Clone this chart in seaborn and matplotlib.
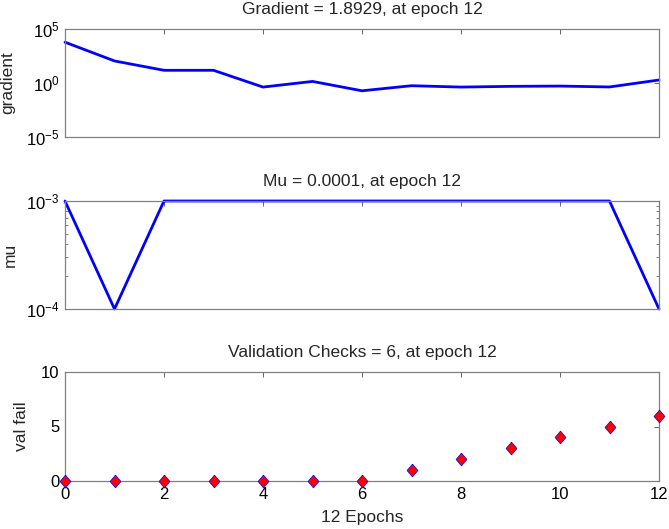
import matplotlib
matplotlib.use("Agg")
import matplotlib.pyplot as plt
import matplotlib.ticker as mticker
import numpy as np
import pandas as pd
import seaborn as sns

# training record values
epochs = [0, 1, 2, 3, 4, 5, 6, 7, 8, 9, 10, 11, 12]
gradient = [6000, 110, 15, 15, 0.42, 1.4, 0.19, 0.56, 0.42, 0.49, 0.52, 0.43, 1.8929]
mu = [1e-3, 1e-4, 1e-3, 1e-3, 1e-3, 1e-3, 1e-3, 1e-3, 1e-3, 1e-3, 1e-3, 1e-3, 1e-4]
val_fail = [0, 0, 0, 0, 0, 0, 0, 1, 2, 3, 4, 5, 6]

titles = ["Gradient = 1.8929, at epoch 12",
          "Mu = 0.0001, at epoch 12",
          "Validation Checks = 6, at epoch 12"]

df = pd.DataFrame({"epoch": epochs, "gradient": gradient, "mu": mu, "val_fail": val_fail})

sns.set_theme(style="white")
plt.rcParams['font.family'] = ['Liberation Sans', 'DejaVu Sans']
plt.rcParams['mathtext.fontset'] = 'custom'
plt.rcParams['mathtext.rm'] = 'Liberation Sans'
plt.rcParams['mathtext.it'] = 'Liberation Sans'

FW, FH = 669, 529
fig = plt.figure(figsize=(FW / 100, FH / 100), dpi=100)

def box(top, bottom, left=65, right=659):
    return [left / FW, 1 - bottom / FH, (right - left) / FW, (bottom - top) / FH]

ax1 = fig.add_axes(box(29, 137))
ax2 = fig.add_axes(box(201, 309))
ax3 = fig.add_axes(box(372, 481))

blue = "#0000ff"

# gradient
sns.lineplot(data=df, x="epoch", y="gradient", ax=ax1, color=blue, linewidth=2, clip_on=False)
ax1.set_yscale("log")
ax1.set_ylim(1e-5, 1e5)
ax1.set_yticks([1e-5, 1e0, 1e5])
ax1.yaxis.set_minor_locator(mticker.NullLocator())
ax1.set_ylabel("gradient")

# mu
sns.lineplot(data=df, x="epoch", y="mu", ax=ax2, color=blue, linewidth=2, clip_on=False)
ax2.set_yscale("log")
ax2.set_ylim(1e-4, 1e-3)
ax2.set_yticks([1e-4, 1e-3])
ax2.yaxis.set_minor_locator(mticker.LogLocator(base=10, subs=np.arange(2, 10)))
ax2.yaxis.set_minor_formatter(mticker.NullFormatter())
ax2.set_ylabel("mu")

# validation checks
diamond = [(0, 1), (0.85, 0), (0, -1), (-0.85, 0), (0, 1)]
sns.scatterplot(data=df, x="epoch", y="val_fail", ax=ax3, marker=diamond, s=85,
                color="red", edgecolor=blue, linewidth=0.5, zorder=3, clip_on=False)
ax3.set_ylim(0, 10)
ax3.set_yticks([0, 5, 10])
ax3.set_ylabel("val fail")
ax3.set_xlabel("12 Epochs", fontsize=12.5, labelpad=6)

label_x = [-0.083, -0.080, -0.060]
for ax, title, lx in zip((ax1, ax2, ax3), titles, label_x):
    ax.set_title(title, fontsize=12.5, pad=11)
    ax.set_xlim(0, 12)
    ax.set_xticks(range(0, 13, 2))
    ax.tick_params(direction="in", length=3.8, width=0.7, colors="#666666",
                   top=True, right=True, labelsize=12, labelcolor="black", pad=4)
    ax.tick_params(which="minor", direction="in", length=2.2, width=0.6,
                   left=True, right=True, colors="#666666")
    for s in ax.spines.values():
        s.set_color("#808080")
        s.set_linewidth(0.9)
    ax.yaxis.label.set_fontsize(12.5)
    ax.yaxis.set_label_coords(lx, 0.5)
    if ax is not ax3:
        ax.set_xlabel("")
        ax.tick_params(labelbottom=False)

fig.savefig("out.png", dpi=100, facecolor="white")
